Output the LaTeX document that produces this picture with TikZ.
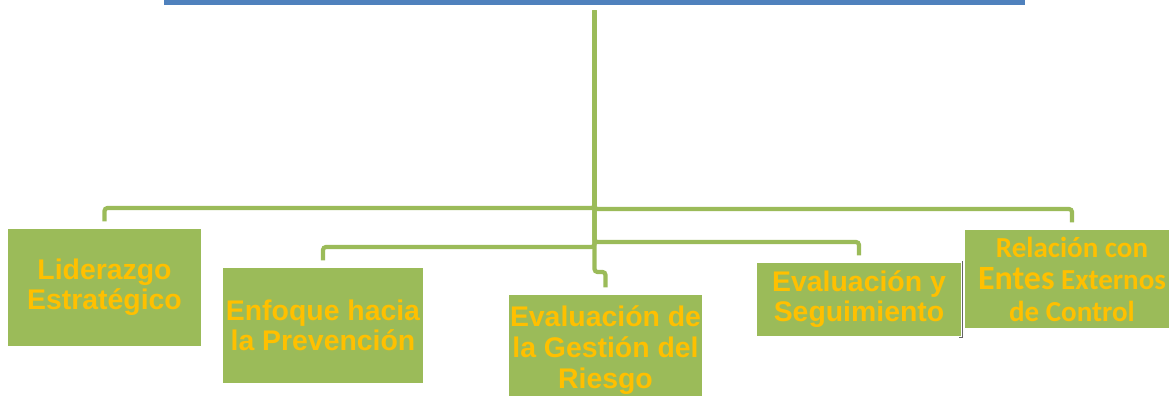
\documentclass[tikz,border=0pt]{standalone}
\usepackage{fontspec}
\setmainfont{Liberation Sans}
\newfontfamily\calfont{Carlito}
\usetikzlibrary{positioning}

\definecolor{rootblue}{HTML}{4F81BD}
\definecolor{boxgreen}{HTML}{9BBB59}
\definecolor{textgold}{HTML}{FFC000}

\tikzset{
  area/.style={fill=boxgreen, draw=white, line width=0.6pt, inner sep=0pt,
    align=center, text=textgold, font=\bfseries\fontsize{14.2}{15}\selectfont},
  conn/.style={draw=boxgreen, line width=2.1pt, rounded corners=1.5pt,
    shorten <=2.5pt, shorten >=3pt}
}

\begin{document}
\begin{tikzpicture}[x=0.5pt, y=-0.5pt]

\clip (0,0) rectangle (1169,396);
\useasboundingbox (0,0) rectangle (1169,396);

% Top box (only its lower edge shows)
\node[fill=rootblue, minimum width=430.5pt, minimum height=25pt, inner sep=0pt]
  (root) at (594.5,-20) {};

% Areas
\node[area, minimum width=97.5pt, minimum height=59.5pt] (lid) at (104.5,287.5)
  {Liderazgo\\Estratégico};

\node[area, minimum width=101pt, minimum height=58.5pt] (pre) at (323,325.5)
  {Enfoque hacia\\la Prevención};

\node[area, minimum width=97.5pt, minimum height=56pt,
  font=\bfseries\fontsize{14.2}{15.5}\selectfont] (ges) at (605.5,350)
  {Evaluación de\\la Gestión del\\Riesgo};

\node[area, minimum width=103pt, minimum height=37.5pt] (seg) at (859,299.5)
  {Evaluación y\\Seguimiento};

\node[area, minimum width=108pt, minimum height=50pt,
  font=\calfont\bfseries\fontsize{14.5}{16}\selectfont] (ent) at (1072,279)
  {Relación con\\{\fontsize{17}{16}\selectfont Entes} Externos\\de Control};

% Edge on the right of the fourth box
\draw[black!60, line width=0.5pt] (seg.north east) -- (seg.south east) -- ++(-4,0);

% Connectors
\draw[conn] (root.south) -- (root.south |- 0,208) -| (lid.north);
\draw[conn] (root.south) -- (root.south |- 0,209) -| (ent.north);
\draw[conn] (root.south) -- (root.south |- 0,247) -| (pre.north);
\draw[conn] (root.south) -- (root.south |- 0,242) -| (seg.north);
\draw[conn] (root.south) -- (root.south |- 0,272) -| (ges.north);

\end{tikzpicture}
\end{document}
